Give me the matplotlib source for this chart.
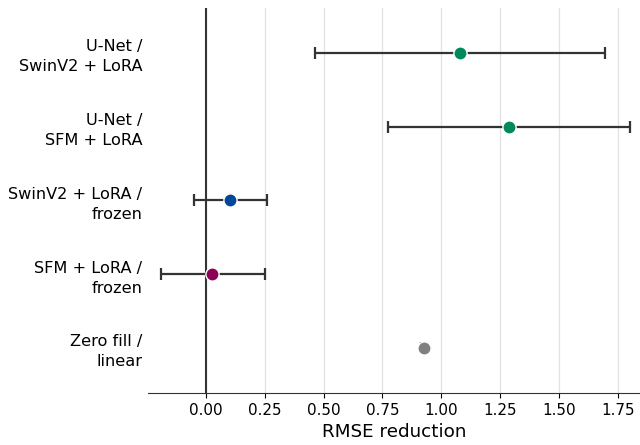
import matplotlib
matplotlib.use('Agg')
import matplotlib.pyplot as plt
import numpy as np

labels = ['U-Net /\nSwinV2 + LoRA', 'U-Net /\nSFM + LoRA', 'SwinV2 + LoRA /\nfrozen',
          'SFM + LoRA /\nfrozen', 'Zero fill /\nlinear']
means = [1.079, 1.287, 0.105, 0.028, 0.926]
lows = [0.463, 0.772, -0.050, -0.191, 0.912]
highs = [1.695, 1.801, 0.258, 0.251, 0.940]
colors = ['#008a5a', '#008a5a', '#00479a', '#8c0056', '#808080']

fig, ax = plt.subplots(figsize=(6.4, 4.45), dpi=100)
ypos = np.arange(len(labels))
for i in range(len(labels)):
    xerr = [[means[i] - lows[i]], [highs[i] - means[i]]]
    ax.errorbar(means[i], ypos[i], xerr=xerr, fmt='none', ecolor='#333333',
                elinewidth=1.6, capsize=4.5, capthick=1.6, zorder=2)
    ax.plot(means[i], ypos[i], 'o', color=colors[i], markersize=9.5,
            markeredgecolor='white', markeredgewidth=1, zorder=3)

ax.axvline(0, color='#333333', linewidth=1.5, zorder=1)
ax.set_yticks(ypos)
ax.set_yticklabels(labels, fontsize=11.6, linespacing=1.4)
ax.tick_params(axis='y', length=0, pad=4)
ax.set_ylim(4.61, -0.61)
ax.set_xlim(-0.246, 1.844)
ax.set_xticks(np.arange(0, 1.76, 0.25))
ax.set_xticklabels(['%.2f' % t for t in np.arange(0, 1.76, 0.25)], fontsize=10.9)
ax.grid(axis='x', color='#e2e2e2', linewidth=0.9, zorder=0)
ax.set_axisbelow(True)
for s in ['top', 'right', 'left']:
    ax.spines[s].set_visible(False)
ax.spines['bottom'].set_color('#333333')
ax.set_xlabel('RMSE reduction', fontsize=13.2)

fig.subplots_adjust(left=0.231, right=1.0, top=0.982, bottom=0.117)
fig.savefig('out.png', dpi=100)
